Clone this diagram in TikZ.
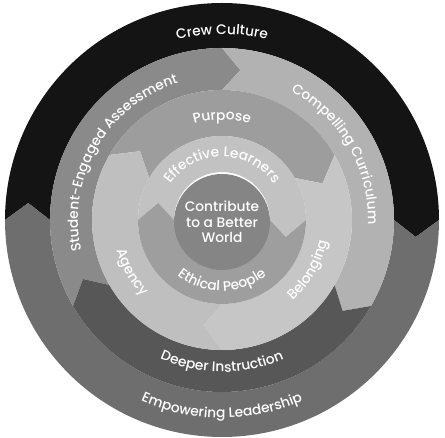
\documentclass[tikz,border=0pt]{standalone}
\usepackage{fontspec}
\setmainfont{Poppins Medium}
\usepackage{xcolor}
\usetikzlibrary{decorations.text}
\definecolor{crew}{HTML}{141414}
\definecolor{lead}{HTML}{6E6E6E}
\definecolor{assess}{HTML}{8A8A8A}
\definecolor{curric}{HTML}{B2B2B2}
\definecolor{instr}{HTML}{575757}
\definecolor{purp}{HTML}{9D9D9D}
\definecolor{belong}{HTML}{C6C6C6}
\definecolor{agent}{HTML}{BFBFBF}
\definecolor{learn}{HTML}{C2C2C2}
\definecolor{ethic}{HTML}{9E9E9E}
\definecolor{world}{HTML}{858585}
\newcommand{\ringfont}{\fontsize{13.8}{16}\selectfont}
\tikzstyle{core} = [circle, minimum size=96, inner sep=0pt, fill=world, text=white, align=center, font=\fontsize{13.8}{15.5}\selectfont]
\newcommand{\ringarrow}[6]{\fill[#1] (#4:#3) arc[start angle=#4, end angle=#5, radius=#3] -- ({#5-#6}:{(#2+#3)/2}) -- (#5:#2) arc[start angle=#5, end angle=#4, radius=#2] -- ({#4-#6}:{(#2+#3)/2}) -- cycle;}
\newcommand{\topword}[3]{\path[decorate, decoration={text along path, text align=center, text color=white, text={|\ringfont|#3}}] ({#2+90}:#1) arc[start angle={#2+90}, end angle={#2-90}, radius=#1];}
\newcommand{\lowword}[3]{\path[decorate, decoration={text along path, text align=center, text color=white, text={|\ringfont|#3}}] ({#2-90}:#1) arc[start angle={#2-90}, end angle={#2+90}, radius=#1];}

\begin{document}
\begin{tikzpicture}[x=1pt, y=1pt]
    \useasboundingbox (-222,-218) rectangle (223,220);
    \ringarrow{crew}{172}{217}{180}{0}{5}
    \ringarrow{lead}{172}{217}{0}{-180}{5}
    \ringarrow{assess}{130}{172}{210}{90}{7}
    \ringarrow{curric}{130}{172}{90}{-30}{7}
    \ringarrow{instr}{130}{172}{-30}{-150}{7}
    \ringarrow{purp}{84}{130}{150}{30}{10}
    \ringarrow{belong}{84}{130}{30}{-90}{10}
    \ringarrow{agent}{84}{130}{-90}{-210}{10}
    \ringarrow{learn}{48}{84}{180}{0}{15}
    \ringarrow{ethic}{48}{84}{0}{-180}{15}
    \node (goal) [core] at (0,-2) {Contribute\\to a Better\\World};
    \topword{186}{90}{Crew Culture}
    \lowword{198}{-90}{Empowering Leadership}
    \topword{144}{150}{Student-Engaged Assessment}
    \topword{146}{30}{Compelling Curriculum}
    \lowword{152}{-90}{Deeper Instruction}
    \topword{100}{90}{Purpose}
    \lowword{107}{-30}{Belonging}
    \lowword{110}{-150}{Agency}
    \topword{63}{90}{Effective Learners}
    \lowword{71}{-90}{Ethical People}
\end{tikzpicture}
\end{document}
